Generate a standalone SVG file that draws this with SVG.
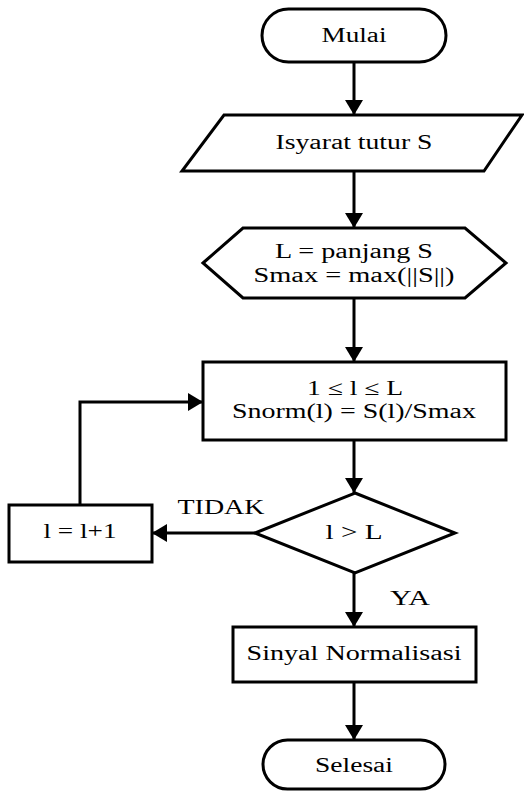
<svg xmlns="http://www.w3.org/2000/svg" width="524" height="792" viewBox="0 0 524 792">
  <style>
    .shape { fill: #ffffff; stroke: #000000; stroke-width: 3; stroke-linejoin: miter; }
    .link { fill: none; stroke: #000000; stroke-width: 3; marker-end: url(#arrow); }
    .label { font-family: 'Liberation Serif', 'DejaVu Serif', serif; font-size: 20.5px; fill: #000000; text-anchor: middle; }
  </style>
  <defs>
    <marker id="arrow" markerUnits="userSpaceOnUse" markerWidth="16" markerHeight="18" refX="15" refY="9" orient="auto">
      <path d="M0,0 L15,9 L0,18 Z" fill="#000000"/>
    </marker>
  </defs>
  <rect width="524" height="792" fill="#ffffff"/>

  <!-- connectors -->
  <g id="connectors">
    <path class="link" d="M354,62 L354,115"/>
    <path class="link" d="M354,171 L354,228"/>
    <path class="link" d="M354,298 L354,362"/>
    <path class="link" d="M354,440 L354,493"/>
    <path class="link" d="M255,533 L152,533"/>
    <path class="link" d="M80,505 L80,402 L203,402"/>
    <path class="link" d="M354,573 L354,627"/>
    <path class="link" d="M354,682 L354,740"/>
    <text class="label" font-family="Liberation Serif, serif" x="221" y="514" textLength="87" lengthAdjust="spacingAndGlyphs">TIDAK</text>
    <text class="label" font-family="Liberation Serif, serif" x="410" y="605" textLength="40" lengthAdjust="spacingAndGlyphs">YA</text>
  </g>

  <!-- start -->
  <g id="mulai">
    <rect class="shape" x="262" y="9" width="184" height="53" rx="26.5" ry="26.5"/>
    <text class="label" font-family="Liberation Serif, serif" x="354" y="42" textLength="65" lengthAdjust="spacingAndGlyphs">Mulai</text>
  </g>

  <!-- input -->
  <g id="input">
    <polygon class="shape" points="224,115 522,115 484,171 182,171"/>
    <text class="label" font-family="Liberation Serif, serif" x="354" y="149" textLength="157" lengthAdjust="spacingAndGlyphs">Isyarat tutur S</text>
  </g>

  <!-- preparation -->
  <g id="preparation">
    <polygon class="shape" points="203,263 243,228 465,228 506,263 465,298 243,298"/>
    <text class="label" font-family="Liberation Serif, serif" x="354" y="258" textLength="158" lengthAdjust="spacingAndGlyphs">L = panjang S</text>
    <text class="label" font-family="Liberation Serif, serif" x="354" y="282" textLength="201" lengthAdjust="spacingAndGlyphs">Smax = max(||S||)</text>
  </g>

  <!-- normalisation step -->
  <g id="normalize">
    <rect class="shape" x="203" y="362" width="303" height="78"/>
    <text class="label" font-family="Liberation Serif, serif" x="355" y="395" textLength="96" lengthAdjust="spacingAndGlyphs">1 ≤ l ≤ L</text>
    <text class="label" font-family="Liberation Serif, serif" x="354" y="418" textLength="244" lengthAdjust="spacingAndGlyphs">Snorm(l) = S(l)/Smax</text>
  </g>

  <!-- decision -->
  <g id="decision">
    <polygon class="shape" points="355,493 455,533 355,573 255,533"/>
    <text class="label" font-family="Liberation Serif, serif" x="354" y="539" textLength="57" lengthAdjust="spacingAndGlyphs">l &gt; L</text>
  </g>

  <!-- increment -->
  <g id="increment">
    <rect class="shape" x="9" y="505" width="143" height="57"/>
    <text class="label" font-family="Liberation Serif, serif" x="80" y="538" textLength="73" lengthAdjust="spacingAndGlyphs">l = l+1</text>
  </g>

  <!-- output -->
  <g id="output">
    <rect class="shape" x="233" y="627" width="243" height="55"/>
    <text class="label" font-family="Liberation Serif, serif" x="354" y="660" textLength="215" lengthAdjust="spacingAndGlyphs">Sinyal Normalisasi</text>
  </g>

  <!-- end -->
  <g id="selesai">
    <rect class="shape" x="263" y="740" width="182" height="49" rx="24.5" ry="24.5"/>
    <text class="label" font-family="Liberation Serif, serif" x="354" y="772" textLength="78" lengthAdjust="spacingAndGlyphs">Selesai</text>
  </g>
</svg>
